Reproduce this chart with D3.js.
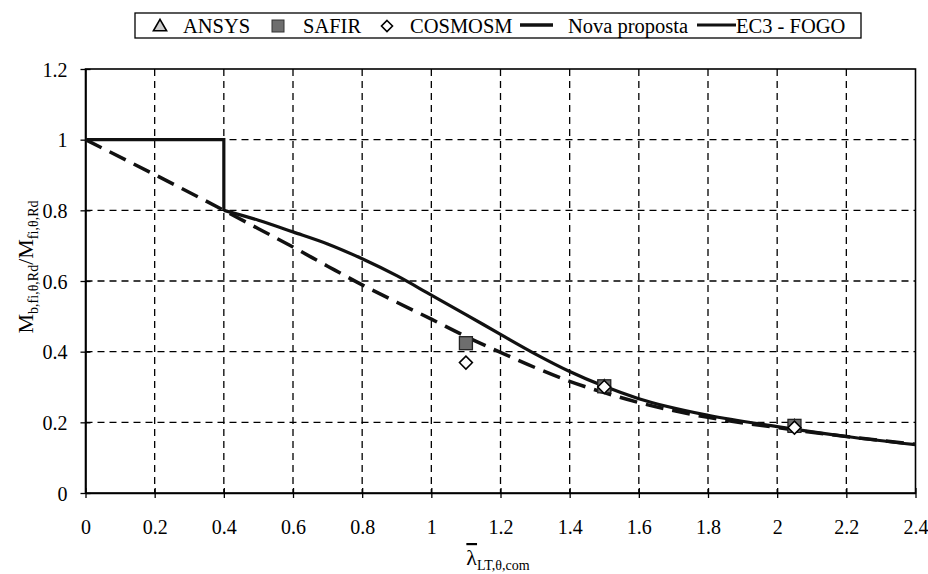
<!DOCTYPE html>
<html><head><meta charset="utf-8">
<script src="https://cdn.jsdelivr.net/npm/d3@7"></script>
<style>
body{margin:0;background:#fff;}
</style></head>
<body><svg id="c" width="928" height="574"></svg>
<script>
// ---- data ----
const xTicks = [0,0.2,0.4,0.6,0.8,1,1.2,1.4,1.6,1.8,2,2.2,2.4];
const yTicks = [0,0.2,0.4,0.6,0.8,1,1.2];
const ec3StepX = [0,0.4,0.4];
const ec3StepY = [1,1,0.8];
const ec3X = [0.4,0.5,0.6,0.7,0.8,0.9,1.0,1.1,1.2,1.3,1.4,1.5,1.6,1.8,2.0,2.2,2.4];
const ec3Y = [0.8,0.772,0.739,0.705,0.663,0.615,0.56,0.505,0.449,0.394,0.344,0.302,0.267,0.22,0.188,0.16,0.137];
const novaX = [0,0.4,0.5,0.6,0.7,0.8,0.9,1.0,1.1,1.2,1.3,1.4,1.5,1.6,1.8,2.0,2.2,2.4];
const novaY = [1,0.8,0.748,0.696,0.642,0.589,0.54,0.492,0.443,0.398,0.355,0.316,0.284,0.256,0.214,0.185,0.16,0.138];
const ansysX = [1.5,2.05];
const ansysY = [0.30,0.187];
const safirX = [1.1,1.5,2.05];
const safirY = [0.424,0.302,0.19];
const cosmosX = [1.1,1.5,2.05];
const cosmosY = [0.369,0.30,0.185];

const FONT = '"Liberation Serif"';
const svg = d3.select('#c');
const L=85.5, R=915.5, T=69, B=493;
const x = d3.scaleLinear().domain([0,2.4]).range([L,R]);
const y = d3.scaleLinear().domain([0,1.2]).range([B,T]);

// grid
svg.append('g').selectAll('line').data(xTicks.filter(d=>d>0&&d<2.4)).join('line')
  .attr('x1',d=>x(d)).attr('x2',d=>x(d)).attr('y1',T).attr('y2',B)
  .attr('stroke','#000').attr('stroke-width',1.3).attr('stroke-dasharray','7,5');
svg.append('g').selectAll('line').data(yTicks.filter(d=>d>0&&d<1.2)).join('line')
  .attr('y1',d=>y(d)).attr('y2',d=>y(d)).attr('x1',L).attr('x2',R)
  .attr('stroke','#000').attr('stroke-width',1.3).attr('stroke-dasharray','7,5');

// border
svg.append('rect').attr('x',L).attr('y',T).attr('width',R-L).attr('height',B-T)
  .attr('fill','none').attr('stroke','#000').attr('stroke-width',1.6);

// axes
const xa = svg.append('g').attr('transform',`translate(0,${B})`)
  .call(d3.axisBottom(x).tickValues(xTicks).tickFormat(d3.format('')).tickSizeInner(5).tickSizeOuter(0).tickPadding(22));
const ya = svg.append('g').attr('transform',`translate(${L},0)`)
  .call(d3.axisLeft(y).tickValues(yTicks).tickFormat(d3.format('')).tickSizeInner(5).tickSizeOuter(0).tickPadding(13));
[xa,ya].forEach(a=>{
  a.attr('font-family',FONT).attr('font-size',20);
  a.select('.domain').attr('stroke','#000').attr('stroke-width',1.6);
  a.selectAll('.tick line').attr('stroke','#000').attr('stroke-width',1.3);
  a.selectAll('text').attr('font-family',FONT).attr('font-size',20).attr('fill','#000');
});
xa.selectAll('.tick line').attr('y1',-5);
ya.selectAll('.tick line').attr('x1',5).attr('x2',-5);
ya.selectAll('text').attr('dy','0.35em');

// lines
const pts = (xs,ys)=>xs.map((v,i)=>[v,ys[i]]);
const lineLin = d3.line().x(d=>x(d[0])).y(d=>y(d[1]));
const lineSm = d3.line().x(d=>x(d[0])).y(d=>y(d[1])).curve(d3.curveMonotoneX);
svg.append('path').attr('d',lineSm(pts(novaX,novaY))).attr('fill','none')
  .attr('stroke','#111').attr('stroke-width',3.5).attr('stroke-dasharray','18,9');
svg.append('path').attr('d',lineLin(pts(ec3StepX,ec3StepY))).attr('fill','none')
  .attr('stroke','#111').attr('stroke-width',3.2);
svg.append('path').attr('d',lineSm(pts(ec3X,ec3Y))).attr('fill','none')
  .attr('stroke','#111').attr('stroke-width',3.2);

// markers
const tri = d3.symbol().type(d3.symbolTriangle).size(70);
const dia = s=>`M0,${-s}L${s},0L0,${s}L${-s},0Z`;
svg.append('g').selectAll('path').data(pts(ansysX,ansysY)).join('path')
  .attr('transform',d=>`translate(${x(d[0])},${y(d[1])})`).attr('d',tri())
  .attr('fill','#ccc').attr('stroke','#000').attr('stroke-width',1.5);
svg.append('g').selectAll('rect').data(pts(safirX,safirY)).join('rect')
  .attr('x',d=>x(d[0])-6.5).attr('y',d=>y(d[1])-6.5).attr('width',13).attr('height',13)
  .attr('fill','#6e6e6e').attr('stroke','#222').attr('stroke-width',1.3);
svg.append('g').selectAll('path').data(pts(cosmosX,cosmosY)).join('path')
  .attr('transform',d=>`translate(${x(d[0])},${y(d[1])})`).attr('d',dia(6.5))
  .attr('fill','#fff').attr('stroke','#000').attr('stroke-width',1.5);

// legend
const lg = svg.append('g');
lg.append('rect').attr('x',135).attr('y',13).attr('width',726).attr('height',25)
  .attr('fill','#fff').attr('stroke','#000').attr('stroke-width',1.3);
const ly = 26;
const ltxt = (x0,t)=>lg.append('text').attr('x',x0).attr('y',ly+7)
  .attr('font-family',FONT).attr('font-size',20.5).attr('fill','#000').text(t);
lg.append('path').attr('transform',`translate(160,${ly+1})`).attr('d',d3.symbol().type(d3.symbolTriangle).size(75)())
  .attr('fill','#ccc').attr('stroke','#000').attr('stroke-width',1.6);
ltxt(183,'ANSYS');
lg.append('rect').attr('x',272).attr('y',ly-6).attr('width',12).attr('height',12)
  .attr('fill','#6e6e6e').attr('stroke','#333').attr('stroke-width',1);
ltxt(303,'SAFIR');
lg.append('path').attr('transform',`translate(387,${ly})`).attr('d',dia(5.5))
  .attr('fill','#fff').attr('stroke','#000').attr('stroke-width',1.6);
ltxt(410,'COSMOSM');
lg.append('line').attr('x1',520).attr('x2',553).attr('y1',ly-1).attr('y2',ly-1)
  .attr('stroke','#111').attr('stroke-width',3.5);
ltxt(568,'Nova proposta');
lg.append('line').attr('x1',697).attr('x2',736).attr('y1',ly-1).attr('y2',ly-1)
  .attr('stroke','#111').attr('stroke-width',3.2);
ltxt(736,'EC3 - FOGO');

// axis titles
const yl = svg.append('text').attr('transform','translate(33,267) rotate(-90)')
  .attr('text-anchor','middle').attr('font-size',22).attr('font-family',FONT).attr('fill','#000');
yl.append('tspan').text('M');
yl.append('tspan').attr('font-size',14).attr('dy',5).text('b,fi,θ,Rd');
yl.append('tspan').attr('dy',-5).text('/M');
yl.append('tspan').attr('font-size',14).attr('dy',5).text('fi,θ,Rd');

const xl = svg.append('text').attr('x',498).attr('y',565).attr('text-anchor','middle')
  .attr('font-size',22).attr('font-family',FONT).attr('fill','#000');
xl.append('tspan').attr('style','text-decoration:overline').text('λ');
xl.append('tspan').attr('font-size',14).attr('dy',5).text('LT,θ,com');
</script></body></html>
